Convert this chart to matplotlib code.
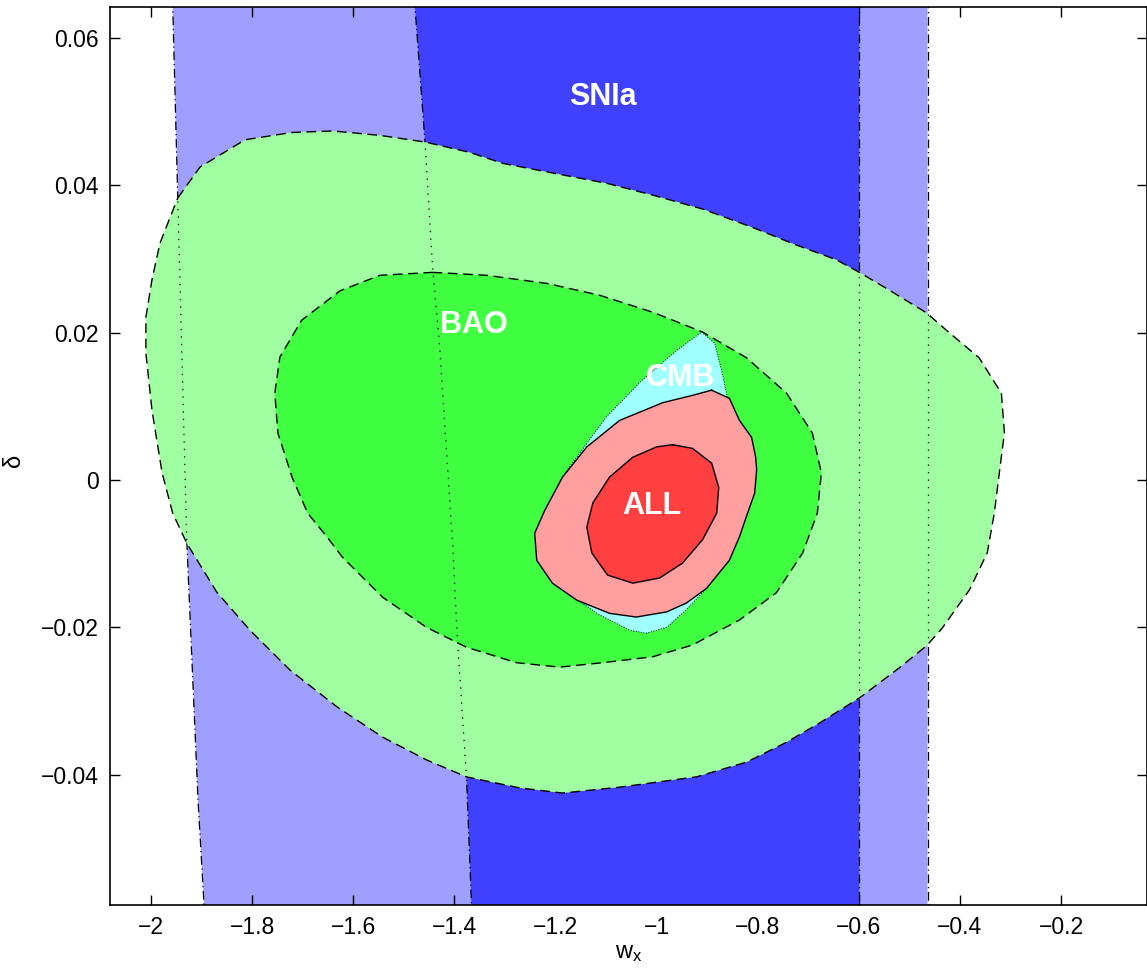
import numpy as np
import matplotlib.pyplot as plt

plt.rcParams['font.family'] = ['Liberation Sans', 'DejaVu Sans']

# SNIa bands (edges in w_x, delta)
sn_light_left_x = [-1.959, -1.957, -1.947, -1.929, -1.907, -1.895, -1.889]
sn_light_left_y = [0.070, 0.0644, 0.0383, -0.0086, -0.0434, -0.0577, -0.065]
sn_light_right = -0.464
sn_dark_left_x = [-1.484, -1.478, -1.458, -1.443, -1.429, -1.403, -1.395, -1.376, -1.366, -1.362]
sn_dark_left_y = [0.070, 0.0644, 0.0459, 0.0289, 0.0181, -0.0091, -0.0204, -0.0403, -0.0577, -0.065]
sn_dark_right = -0.599

# BAO 2 sigma
bao2_x = [-1.947, -1.903, -1.814, -1.721, -1.640, -1.547, -1.458, -1.370, -1.304, -1.206,
          -1.099, -1.008, -0.909, -0.810, -0.723, -0.644, -0.599, -0.540, -0.466, -0.421,
          -0.362, -0.318, -0.312, -0.322, -0.332, -0.346, -0.381, -0.435, -0.466, -0.520,
          -0.599, -0.678, -0.743, -0.822, -0.921, -1.073, -1.186, -1.271, -1.376, -1.455,
          -1.542, -1.632, -1.725, -1.804, -1.870, -1.929, -1.957, -1.978, -1.998, -2.010,
          -2.010, -1.998, -1.982]
bao2_y = [0.0383, 0.0425, 0.0462, 0.0472, 0.0474, 0.0468, 0.0459, 0.0445, 0.0430, 0.0417,
          0.0403, 0.0387, 0.0368, 0.0343, 0.0319, 0.0299, 0.0282, 0.0258, 0.0227, 0.0200,
          0.0166, 0.0118, 0.0064, 0.0010, -0.0045, -0.0099, -0.0149, -0.0201, -0.0225, -0.0255,
          -0.0296, -0.0330, -0.0356, -0.0383, -0.0403, -0.0417, -0.0425, -0.0418, -0.0403, -0.0380,
          -0.0349, -0.0308, -0.0258, -0.0204, -0.0152, -0.0086, -0.0045, 0.0010, 0.0095, 0.0172,
          0.0221, 0.0272, 0.0322]

# BAO 1 sigma
bao1_x = [-1.443, -1.336, -1.217, -1.113, -1.008, -0.909, -0.822, -0.743, -0.692, -0.674,
          -0.682, -0.711, -0.763, -0.836, -0.929, -1.008, -1.107, -1.192, -1.277, -1.376,
          -1.455, -1.542, -1.621, -1.652, -1.690, -1.721, -1.749, -1.755, -1.745, -1.702,
          -1.626, -1.547]
bao1_y = [0.0282, 0.0278, 0.0267, 0.0251, 0.0228, 0.0201, 0.0166, 0.0118, 0.0064, 0.0010,
          -0.0045, -0.0099, -0.0153, -0.0190, -0.0224, -0.0240, -0.0248, -0.0254, -0.0248, -0.0227,
          -0.0200, -0.0159, -0.0105, -0.0077, -0.0045, 0.0004, 0.0064, 0.0118, 0.0167, 0.0217,
          0.0257, 0.0278]

# CMB
cmb_x = [-0.911, -0.885, -0.870, -0.860, -0.836, -0.832, -0.866, -0.901, -0.941, -0.980,
         -1.020, -1.053, -1.113, -1.156, -1.200, -1.211, -1.192, -1.172, -1.099, -1.028, -0.960]
cmb_y = [0.0201, 0.0186, 0.0145, 0.0111, 0.0041, -0.0041, -0.0115, -0.0147, -0.0176, -0.0200,
         -0.0208, -0.0204, -0.0183, -0.0163, -0.0115, -0.0054, -0.0003, 0.0018, 0.0086, 0.0136, 0.0176]

# ALL 2 sigma
all2_x = [-0.891, -0.856, -0.836, -0.812, -0.804, -0.802, -0.806, -0.820, -0.836, -0.856,
          -0.901, -0.941, -0.980, -1.040, -1.093, -1.158, -1.206, -1.237, -1.241, -1.221,
          -1.186, -1.138, -1.073, -0.988, -0.929]
all2_y = [0.0122, 0.0111, 0.0081, 0.0058, 0.0031, 0.0014, -0.0018, -0.0045, -0.0077, -0.0109,
          -0.0147, -0.0167, -0.0179, -0.0186, -0.0181, -0.0163, -0.0140, -0.0109, -0.0072, -0.0041,
          0.0004, 0.0045, 0.0081, 0.0105, 0.0115]

# ALL 1 sigma
all1_x = [-0.968, -0.929, -0.891, -0.877, -0.881, -0.909, -0.949, -0.994, -1.047, -1.097,
          -1.128, -1.138, -1.126, -1.093, -1.047, -1.000]
all1_y = [0.0048, 0.0043, 0.0023, -0.0010, -0.0045, -0.0081, -0.0113, -0.0133, -0.0140, -0.0129,
          -0.0099, -0.0064, -0.0031, 0.0004, 0.0031, 0.0045]

labels = ['SNIa', 'BAO', 'CMB', 'ALL']
label_x = [-1.107, -1.362, -0.953, -1.010]
label_y = [0.052, 0.0210, 0.0138, -0.0035]

xticks = [-2, -1.8, -1.6, -1.4, -1.2, -1, -0.8, -0.6, -0.4, -0.2]
xticklabels = ['\u22122', '\u22121.8', '\u22121.6', '\u22121.4', '\u22121.2', '\u22121',
               '\u22120.8', '\u22120.6', '\u22120.4', '\u22120.2']
yticks = [-0.04, -0.02, 0, 0.02, 0.04, 0.06]
yticklabels = ['\u22120.04', '\u22120.02', '0', '0.02', '0.04', '0.06']


def closed(x, y):
    return np.append(x, x[0]), np.append(y, y[0])


fig = plt.figure(figsize=(11.47, 9.75), dpi=100)
ax = fig.add_axes([110 / 1147, 70 / 975, 1037 / 1147, 898.5 / 975])

# SNIa
top, bot = sn_light_left_y[0], sn_light_left_y[-1]
ax.fill(sn_light_left_x + [sn_light_right, sn_light_right],
        sn_light_left_y + [bot, top], color='#9f9fff', lw=0, zorder=1)
ax.fill(sn_dark_left_x + [sn_dark_right, sn_dark_right],
        sn_dark_left_y + [sn_dark_left_y[-1], sn_dark_left_y[0]], color='#4040ff', lw=0, zorder=2)
sn_edges = [(sn_light_left_x, sn_light_left_y),
            ([sn_light_right] * 2, [top, bot]),
            (sn_dark_left_x, sn_dark_left_y),
            ([sn_dark_right] * 2, [top, bot])]
for ex, ey in sn_edges:
    ax.plot(ex, ey, color='k', ls='-.', lw=0.9, dashes=(7, 3, 1, 3), zorder=3)

# BAO
outer = ax.fill(bao2_x, bao2_y, color='#a0ffa0', lw=0, zorder=4)[0]
ax.fill(bao1_x, bao1_y, color='#40ff40', lw=0, zorder=5)
for ex, ey in sn_edges:
    ln, = ax.plot(ex, ey, color='k', ls=':', lw=0.9, dashes=(1, 5), zorder=6)
    ln.set_clip_path(outer)
for bx, by in [(bao2_x, bao2_y), (bao1_x, bao1_y)]:
    cx, cy = closed(bx, by)
    ax.plot(cx, cy, color='k', lw=1.0, dashes=(7, 4), zorder=7)

# CMB
ax.fill(cmb_x, cmb_y, color='#a0ffff', lw=0, zorder=8)
cx, cy = closed(cmb_x, cmb_y)
ax.plot(cx, cy, color='k', lw=0.7, ls=':', zorder=9)

# ALL
for ax_x, ax_y, c, z in [(all2_x, all2_y, '#ff9f9f', 10), (all1_x, all1_y, '#ff4040', 12)]:
    ax.fill(ax_x, ax_y, color=c, lw=0, zorder=z)
    cx, cy = closed(ax_x, ax_y)
    ax.plot(cx, cy, color='k', lw=1.0, zorder=z + 1)

for t, lx, ly in zip(labels, label_x, label_y):
    ax.text(lx, ly, t, color='white', fontsize=22, fontweight='bold',
            ha='center', va='center', zorder=20)

ax.set_xlim(-2.081, -0.030)
ax.set_ylim(-0.0577, 0.0643)
ax.set_xticks(xticks)
ax.set_xticklabels(xticklabels)
ax.set_yticks(yticks)
ax.set_yticklabels(yticklabels)
ax.tick_params(direction='in', length=7, width=1, top=True, right=True,
               labelsize=16.5, pad=8)
for s in ax.spines.values():
    s.set_linewidth(1.2)
    s.set_zorder(30)
ax.set_xlabel(r'$\mathregular{w_x}$', fontsize=17, labelpad=2)
ax.set_ylabel('\u03b4', fontsize=17)
ax.yaxis.set_label_coords(-0.082, 0.495)

fig.savefig('out.png', dpi=100)
